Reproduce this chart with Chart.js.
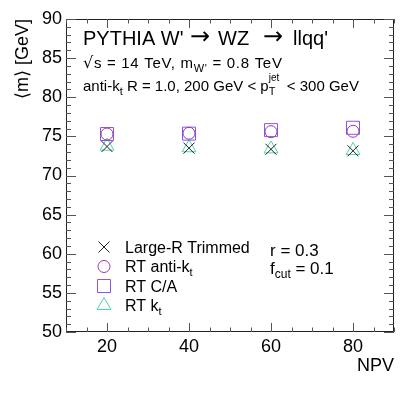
<!DOCTYPE html>
<html>
<head>
<meta charset="utf-8">
<script src="https://cdn.jsdelivr.net/npm/chart.js@4"></script>
<style>
body { margin: 0; background: #fff; }
</style>
</head>
<body>
<canvas id="myChart" width="415" height="395"></canvas>
<script>
var npv = [20, 40, 60, 80]
var trimmed = [73.7, 73.5, 73.35, 73.15]
var rtAntiKt = [75.3, 75.4, 75.6, 75.65]
var rtCA = [75.3, 75.35, 75.8, 76.1]
var rtKt = [73.75, 73.55, 73.4, 73.2]
var xTicks = [20, 40, 60, 80]
var yTicks = [50, 55, 60, 65, 70, 75, 80, 85, 90]

var FONT = '"Liberation Sans", Arial, Helvetica, sans-serif'
var SYM = '"DejaVu Sans", sans-serif'
var myChart

function points(ys) {
    var out = []
    for (var i = 0; i < npv.length; i++) out.push({ x: npv[i], y: ys[i] })
    return out
}

function series(label, ys, color, style, radius) {
    return {
        label: label,
        data: points(ys),
        showLine: false,
        pointStyle: style,
        pointRadius: radius,
        pointHoverRadius: radius,
        pointBorderWidth: 1,
        pointBackgroundColor: 'rgba(0,0,0,0)',
        pointBorderColor: color,
        borderColor: color,
        backgroundColor: 'rgba(0,0,0,0)'
    }
}

// text pieces: [text, size, dy, noAdvance, family]
function rich(ctx, x, y, parts) {
    for (var i = 0; i < parts.length; i++) {
        var p = parts[i]
        ctx.font = p[1] + 'px ' + (p[4] || FONT)
        ctx.fillText(p[0], x, y + (p[2] || 0))
        if (!p[3]) x += ctx.measureText(p[0]).width
    }
    return x
}

var frameAndText = {
    id: 'frameAndText',
    afterDatasetsDraw: function (chart) {
        var ctx = chart.ctx
        var a = chart.chartArea
        var xs = chart.scales.x
        var ys = chart.scales.y
        ctx.save()
        ctx.strokeStyle = '#222'
        ctx.lineWidth = 1
        ctx.beginPath()
        ctx.rect(a.left + 0.5, a.top + 0.5, a.right - a.left - 1, a.bottom - a.top - 1)
        ctx.stroke()

        ctx.strokeStyle = '#555'
        ctx.beginPath()
        for (var v = 10; v <= 90; v += 5) {
            var px = Math.round(xs.getPixelForValue(v)) + 0.5
            var len = (v % 20 === 0) ? 9 : 4.5
            ctx.moveTo(px, a.bottom); ctx.lineTo(px, a.bottom - len)
            ctx.moveTo(px, a.top); ctx.lineTo(px, a.top + len)
        }
        for (var w = 50; w <= 90; w += 1) {
            var py = Math.round(ys.getPixelForValue(w)) + 0.5
            var l2 = (w % 5 === 0) ? 10 : 5
            ctx.moveTo(a.left, py); ctx.lineTo(a.left + l2, py)
            ctx.moveTo(a.right, py); ctx.lineTo(a.right - l2, py)
        }
        ctx.stroke()

        ctx.fillStyle = '#000'
        ctx.textAlign = 'left'
        ctx.textBaseline = 'alphabetic'
        // title line, pieces spread like the ROOT latex
        rich(ctx, 83, 45, [['PYTHIA W\'', 20]])
        rich(ctx, 218, 45, [['WZ', 20]])
        rich(ctx, 293, 45, [['llqq\'', 20]])
        ctx.textAlign = 'center'
        rich(ctx, 200, 44, [['\u2192', 24, 0, true, SYM]])
        rich(ctx, 273, 44, [['\u2192', 24, 0, true, SYM]])
        ctx.textAlign = 'left'

        ctx.letterSpacing = '0.7px'
        rich(ctx, 83, 68, [['\u221A', 16, 0, false, SYM], ['s = 14 TeV, m', 15], ['W\'', 11, 4], [' = 0.8 TeV', 15]])
        ctx.letterSpacing = '0px'
        var xx = rich(ctx, 83, 91, [['anti-k', 15], ['t', 11, 4], [' R = 1.0, 200 GeV < p', 15]])
        rich(ctx, xx, 91, [['T', 11, 4, true], ['jet', 10, -10]])
        rich(ctx, xx + 14, 91, [[' < 300 GeV', 15]])

        // legend
        var rows = [
            [[['Large-R Trimmed', 16]], 0],
            [[['RT anti-k', 16], ['t', 11, 4]], 1],
            [[['RT C/A', 16]], 2],
            [[['RT k', 16], ['t', 11, 4]], 3]
        ]
        for (var i = 0; i < rows.length; i++) {
            var cy = 247 + i * 19.5
            var ds = chart.data.datasets[rows[i][1]]
            ctx.strokeStyle = ds.pointBorderColor
            ctx.fillStyle = 'rgba(0,0,0,0)'
            ctx.lineWidth = 1
            Chart.helpers.drawPoint(ctx, {
                pointStyle: ds.pointStyle,
                radius: ds.pointRadius,
                borderWidth: 1,
                rotation: 0
            }, 104, cy)
            ctx.fillStyle = '#000'
            rich(ctx, 125, cy + 5.5, rows[i][0])
        }
        rich(ctx, 270, 256, [['r = 0.3', 17]])
        rich(ctx, 270, 274, [['f', 17], ['cut', 12, 4], [' = 0.1', 17]])
        ctx.restore()
    }
}

function Graphic() {
    var ctx = document.getElementById('myChart')
    myChart = new Chart(ctx, {
        type: 'scatter',
        data: {
            datasets: [
                series('Large-R Trimmed', trimmed, '#222222', 'crossRot', 7.8),
                series('RT anti-kt', rtAntiKt, '#9a3aa6', 'circle', 6),
                series('RT C/A', rtCA, '#8457ec', 'rect', 9.2),
                series('RT kt', rtKt, '#4fd6a0', 'triangle', 8)
            ]
        },
        options: {
            responsive: false,
            animation: false,
            events: [],
            layout: { padding: { left: 0, top: 19, right: 21, bottom: 0 } },
            plugins: { legend: { display: false }, tooltip: { enabled: false } },
            scales: {
                x: {
                    type: 'linear',
                    min: 10,
                    max: 90,
                    grid: { display: false, drawTicks: false },
                    border: { display: false },
                    afterBuildTicks: function (s) {
                        s.ticks = xTicks.map(function (v) { return { value: v } })
                    },
                    afterFit: function (s) { s.height = 63 },
                    ticks: {
                        color: '#000',
                        padding: 4,
                        maxRotation: 0,
                        font: { family: FONT, size: 18 }
                    },
                    title: {
                        display: true,
                        text: 'NPV',
                        align: 'end',
                        color: '#000',
                        padding: { top: 0, bottom: 18 },
                        font: { family: FONT, size: 18 }
                    }
                },
                y: {
                    type: 'linear',
                    min: 50,
                    max: 90,
                    grid: { display: false, drawTicks: false },
                    border: { display: false },
                    afterBuildTicks: function (s) {
                        s.ticks = yTicks.map(function (v) { return { value: v } })
                    },
                    afterFit: function (s) { s.width = 66 },
                    ticks: {
                        color: '#000',
                        padding: 4,
                        font: { family: FONT, size: 18 }
                    },
                    title: {
                        display: true,
                        text: '\u27E8m\u27E9 [GeV]',
                        align: 'end',
                        color: '#000',
                        padding: { top: 12, bottom: 0 },
                        font: { family: FONT, size: 18 }
                    }
                }
            }
        },
        plugins: [frameAndText]
    })
}

window.addEventListener('load', Graphic)
</script>
</body>
</html>
